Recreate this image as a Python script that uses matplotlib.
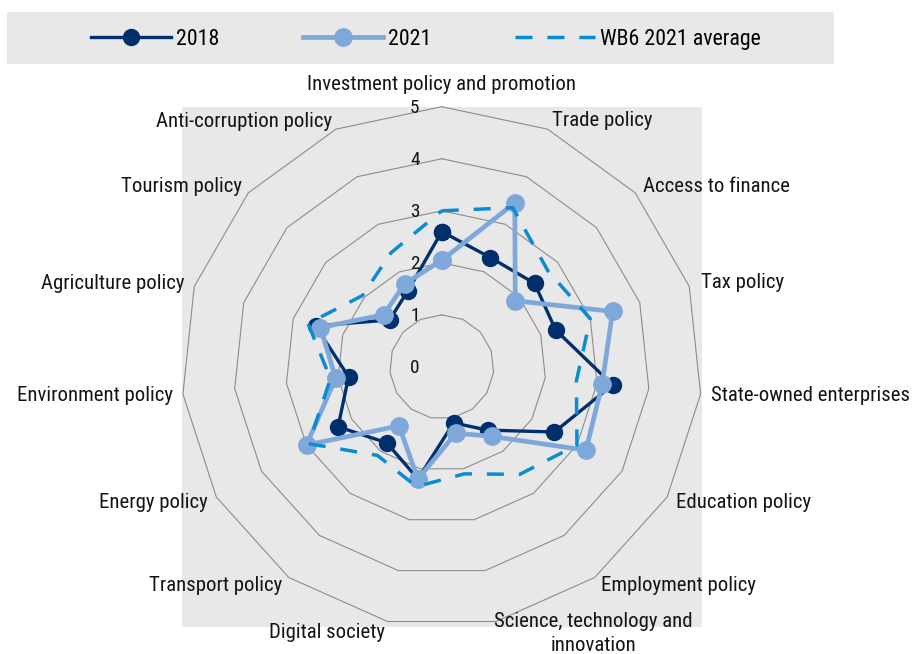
import os
import numpy as np
import matplotlib
matplotlib.use("Agg")
import matplotlib.pyplot as plt
from matplotlib import font_manager
from matplotlib.font_manager import FontProperties
from matplotlib.patches import Rectangle
import matplotlib.transforms as mtransforms

# ---------------- data ----------------
categories = [
    "Investment policy and promotion",
    "Trade policy",
    "Access to finance",
    "Tax policy",
    "State-owned enterprises",
    "Education policy",
    "Employment policy",
    "Science, technology and\ninnovation",
    "Digital society",
    "Transport policy",
    "Energy policy",
    "Environment policy",
    "Agriculture policy",
    "Tourism policy",
    "Anti-corruption policy",
]
scores_2018 = [2.6, 2.3, 2.4, 2.3, 3.3, 2.5, 1.5, 1.1, 2.2, 1.8, 2.3, 1.8, 2.55, 1.35, 1.6]
scores_2021 = [2.05, 3.45, 1.9, 3.45, 3.1, 3.2, 1.65, 1.3, 2.2, 1.4, 3.0, 2.05, 2.45, 1.5, 1.75]
wb6_2021_avg = [3.0, 3.35, 2.75, 3.0, 2.6, 3.0, 2.55, 2.1, 2.35, 2.1, 2.95, 2.15, 2.7, 2.05, 2.4]
series_labels = ["2018", "2021", "WB6 2021 average"]
ring_levels = [0, 1, 2, 3, 4, 5]

# ---------------- layout / style ----------------
label_r = [5.43, 5.19, 5.19, 5.24, 5.2, 5.2, 5.2, 4.82, 5.22, 5.2, 5.2, 5.2, 5.2, 5.17, 5.17]
label_ha = ["center", "left", "left", "left", "left", "left", "left", "left",
            "right", "right", "right", "right", "right", "right", "right"]
label_va = ["center"] * 7 + ["top"] + ["center"] * 7

C2018 = "#002F6C"
C2021 = "#7FA8DA"
CWB6 = "#0B8BD1"
GRID = "#8C8C8C"
BG = "#E8E8E8"
TXT = "#141414"


def pick_font_file():
    prefs = ["liberationsansnarrow-regular", "arialn", "robotocondensed-regular",
             "notosans-condensed.", "notosans-condensed-regular", "opensans-condensed",
             "opensanscondensed", "notosans-condensedregular"]
    files = {}
    for f in font_manager.fontManager.ttflist:
        files[os.path.basename(f.fname).lower()] = f.fname
    for p in prefs:
        for k, v in files.items():
            if k.startswith(p):
                return v
    for k, v in files.items():
        if ("narrow" in k or "condensed" in k) and "bold" not in k and "italic" not in k \
                and "light" not in k and "medium" not in k and "semi" not in k \
                and "thin" not in k and "black" not in k and "extra" not in k \
                and "dejavu" not in k and "oblique" not in k:
            return v
    return None


W, H = 913, 654
fig = plt.figure(figsize=(W / 100, H / 100), dpi=100)
fig.patch.set_facecolor("white")
renderer = fig.canvas.get_renderer()

ffile = pick_font_file()
if ffile:
    base_fp = FontProperties(fname=ffile)
else:
    base_fp = FontProperties(family="Liberation Sans")


def fit_size(text, target_px):
    fp = base_fp.copy()
    fp.set_size(10)
    t = fig.text(0, 0, text, fontproperties=fp)
    w = t.get_window_extent(renderer).width
    t.remove()
    return 10 * target_px / w


FS = fit_size("Environment policy", 154)
FS_LEG = fit_size("WB6 2021 average", 160)
FS_TICK = FS * 0.93


def fp_size(s):
    fp = base_fp.copy()
    fp.set_size(s)
    return fp


# polar axes placed so its square bbox is the grey plot area
ax_l, ax_r, ax_t, ax_b = 181.5, 702.0, 106.7, 627.2
rect = [ax_l / W, (H - ax_b) / H, (ax_r - ax_l) / W, (ax_b - ax_t) / H]
ax = fig.add_axes(rect, projection="polar")
ax.set_facecolor("none")
fig.add_artist(Rectangle((rect[0], rect[1]), rect[2], rect[3], transform=fig.transFigure,
                         facecolor=BG, edgecolor="none", zorder=-2))
# legend background box
fig.add_artist(Rectangle((7 / W, 1 - 64 / H), 827 / W, 52 / H, transform=fig.transFigure,
                         facecolor=BG, edgecolor="none", zorder=-2))

ax.set_theta_zero_location("N")
ax.set_theta_direction(-1)
ax.set_ylim(0, 5)
ax.set_xticks([])
ax.set_yticks([])
ax.grid(False)
ax.spines["polar"].set_visible(False)

n = len(categories)
theta = np.arange(n) * 2 * np.pi / n
theta_c = np.append(theta, theta[0])


def closed(v):
    return np.append(v, v[0])


# polygon rings
for lv in ring_levels[1:]:
    ax.plot(theta_c, [lv] * (n + 1), color=GRID, lw=0.8, zorder=1, clip_on=False)

# ring labels
off = mtransforms.offset_copy(ax.transData, fig=fig, x=-27, y=-1, units="dots")
for lv in ring_levels:
    ax.text(0, lv, str(lv), transform=off, ha="center", va="center",
            fontproperties=fp_size(FS_TICK), color=TXT, clip_on=False)

# category labels
for i, cat in enumerate(categories):
    ax.text(theta[i], label_r[i], cat, ha=label_ha[i], va=label_va[i],
            multialignment="center", linespacing=1.3, fontproperties=fp_size(FS),
            color=TXT, clip_on=False)

# series
l1, = ax.plot(theta_c, closed(scores_2018), color=C2018, lw=2.4, marker="o",
              ms=11.5, zorder=3, clip_on=False)
l2, = ax.plot(theta_c, closed(scores_2021), color=C2021, lw=3.4, marker="o",
              ms=12.5, zorder=4, clip_on=False)
l3, = ax.plot(theta_c, closed(wb6_2021_avg), color=CWB6, lw=2.5, dashes=(4.9, 4.3),
              zorder=5, clip_on=False)

fs_px = FS_LEG * 100 / 72
fig.legend(handles=[l1, l2, l3], labels=series_labels, loc="center",
           bbox_to_anchor=(426 / W, 1 - 39.5 / H), ncol=3, frameon=False,
           prop=fp_size(FS_LEG), handlelength=80 / fs_px, handletextpad=5 / fs_px,
           columnspacing=84 / fs_px, borderaxespad=0, borderpad=0)

fig.savefig("out.png", dpi=100, facecolor="white")
